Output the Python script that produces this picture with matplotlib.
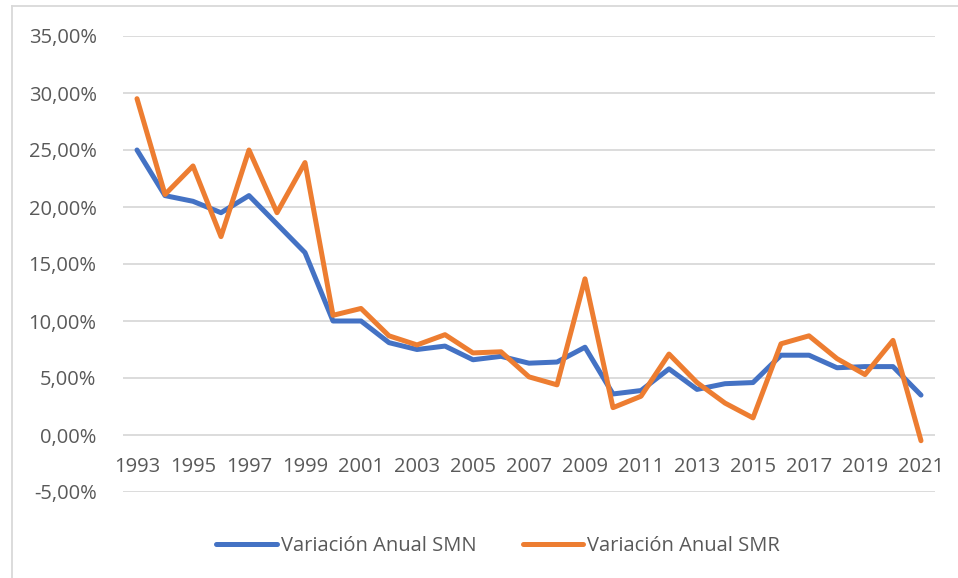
import numpy as np
import matplotlib.pyplot as plt
from matplotlib.lines import Line2D

years = list(range(1993, 2022))
smn = [25.0, 21.0, 20.5, 19.5, 21.0, 18.5, 16.0, 10.0, 10.0, 8.1,
       7.5, 7.8, 6.6, 6.9, 6.3, 6.4, 7.7, 3.6, 3.9, 5.8,
       4.0, 4.5, 4.6, 7.0, 7.0, 5.9, 6.0, 6.0, 3.5]
smr = [29.5, 21.1, 23.6, 17.4, 25.0, 19.5, 23.9, 10.5, 11.1, 8.7,
       7.9, 8.8, 7.2, 7.3, 5.1, 4.4, 13.7, 2.4, 3.4, 7.1,
       4.6, 2.8, 1.5, 8.0, 8.7, 6.7, 5.3, 8.3, -0.5]
series_names = ["Variación Anual SMN", "Variación Anual SMR"]
yticks = [-5, 0, 5, 10, 15, 20, 25, 30, 35]

plt.rcParams['font.family'] = ['Open Sans', 'DejaVu Sans']
txt = '#595959'
blue = '#4472C4'
orange = '#ED7D31'

fig = plt.figure(figsize=(9.58, 5.78), dpi=100)
W, H = 958, 578
ax = fig.add_axes([123 / W, 1 - 492 / H, (935 - 123) / W, (492 - 36) / H])

x = np.arange(len(years))
ax.plot(x, smn, color=blue, lw=3.6, solid_joinstyle='round', solid_capstyle='round')
ax.plot(x, smr, color=orange, lw=3.6, solid_joinstyle='round', solid_capstyle='round')

ax.set_xlim(-0.5, len(years) - 0.5)
ax.set_ylim(-5, 35)
ax.set_yticks(yticks)
ax.set_yticklabels([("%.2f%%" % v).replace('.', ',') for v in yticks])
ax.yaxis.grid(True, color='#D9D9D9', lw=1.3)
ax.set_axisbelow(True)

ax.set_xticks(x[::2])
ax.set_xticklabels([str(y) for y in years[::2]])
ax.spines['bottom'].set_position(('data', 0))
for s in ax.spines.values():
    s.set_visible(False)
ax.tick_params(axis='both', length=0, labelsize=14.5, labelcolor=txt)
ax.tick_params(axis='y', pad=19)
ax.tick_params(axis='x', pad=16)

handles = [Line2D([], [], color=blue, lw=3.6, solid_capstyle='round'),
           Line2D([], [], color=orange, lw=3.6, solid_capstyle='round')]
fig.legend(handles, series_names, loc='center', bbox_to_anchor=(0.52, 1 - 546 / H),
           ncol=2, frameon=False, fontsize=14.5, labelcolor=txt,
           handlelength=3.0, handletextpad=0.2, columnspacing=2.3)

# chart border (only top and left visible in the crop)
fig.add_artist(Line2D([12 / W, 1], [1 - 6 / H, 1 - 6 / H], color='#D9D9D9', lw=1.3))
fig.add_artist(Line2D([12 / W, 12 / W], [0, 1 - 6 / H], color='#D9D9D9', lw=1.3))

fig.savefig('out.png', dpi=100)
